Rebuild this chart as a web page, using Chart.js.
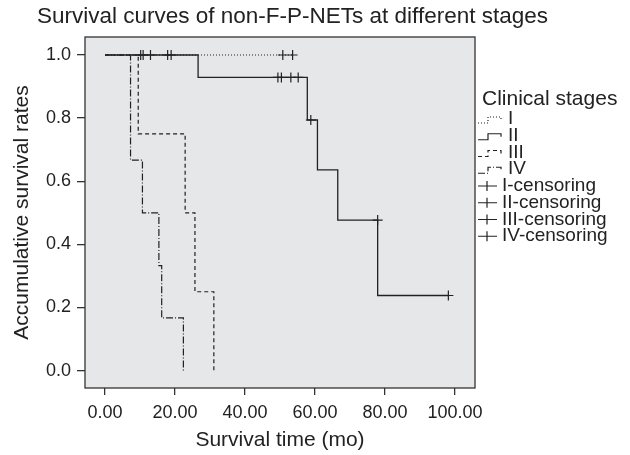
<!DOCTYPE html>
<html>
<head>
<meta charset="utf-8">
<script src="https://cdn.jsdelivr.net/npm/chart.js@4.4.1/dist/chart.umd.min.js"></script>
<style>
  body { margin: 0; background: #fff; }
  canvas { display: block; }
</style>
</head>
<body>
<canvas id="kmChart" width="630" height="455"></canvas>
<script>
// Values (time in months, survival rate)
const timeTicks = [0, 20, 40, 60, 80, 100];
const rateTicks = [0, 0.2, 0.4, 0.6, 0.8, 1.0];

const stage1Time = [0, 53.6];
const stage1Rate = [1, 1];
const stage2Time = [0, 26.6, 57.8, 60.7, 66.5, 77.9, 98.1];
const stage2Rate = [1, 0.929, 0.794, 0.636, 0.477, 0.238, 0.238];
const stage3Time = [0, 9.5, 22.9, 25.7, 31.1];
const stage3Rate = [1, 0.75, 0.5, 0.25, 0];
const stage4Time = [0, 7.3, 10.7, 15.4, 16.2, 22.4];
const stage4Rate = [1, 0.667, 0.5, 0.333, 0.167, 0];

const censor1Time = [10.2, 10.9, 13.0, 17.9, 18.9, 50.8, 53.6];
const censor1Rate = [1, 1, 1, 1, 1, 1, 1];
const censor2Time = [49.4, 50.4, 53.1, 55.2, 58.8, 77.9, 98.1];
const censor2Rate = [0.929, 0.929, 0.929, 0.929, 0.794, 0.477, 0.238];

const legendTitle = 'Clinical stages';
const legendLabels = ['I', 'II', 'III', 'IV', 'I-censoring', 'II-censoring', 'III-censoring', 'IV-censoring'];

const FONT = '"Liberation Sans", Arial, Helvetica, sans-serif';
const INK = '#222';

function toPoints(xs, ys) {
  return xs.map((x, i) => ({ x: x, y: ys[i] }));
}

// dash patterns for the four stage curves
const stageDashes = [[1, 2], [], [4, 3], [7, 2, 1, 2]];

function stepLine(label, xs, ys, dash, width) {
  return {
    label: label,
    data: toPoints(xs, ys),
    showLine: true,
    stepped: 'before',
    borderColor: INK,
    borderWidth: width,
    borderDash: dash,
    pointRadius: 0,
    fill: false
  };
}

function censorMarks(label, xs, ys) {
  return {
    label: label,
    data: toPoints(xs, ys),
    showLine: false,
    pointStyle: 'cross',
    pointRadius: 5,
    pointBorderColor: INK,
    pointBorderWidth: 1.2,
    borderColor: INK
  };
}

// Gray plot panel, frame, title and the SPSS-like legend
const framePlugin = {
  id: 'frame',
  beforeDraw(chart) {
    const a = chart.chartArea;
    const ctx = chart.ctx;
    ctx.save();
    ctx.fillStyle = '#e6e7e9';
    ctx.fillRect(a.left, a.top, a.right - a.left, a.bottom - a.top);
    ctx.restore();
  },
  afterDraw(chart) {
    const a = chart.chartArea;
    const ctx = chart.ctx;
    ctx.save();
    ctx.strokeStyle = '#333';
    ctx.lineWidth = 1.3;
    ctx.strokeRect(a.left, a.top, a.right - a.left, a.bottom - a.top);

    ctx.fillStyle = INK;
    ctx.textBaseline = 'middle';
    ctx.textAlign = 'left';
    ctx.font = '22.5px ' + FONT;
    ctx.fillText('Survival curves of non-F-P-NETs at different stages', 37, 17);

    // legend
    const lx = a.right + 3;
    ctx.font = '21px ' + FONT;
    ctx.fillText(legendTitle, lx + 4, 99);
    ctx.font = '19px ' + FONT;
    legendLabels.forEach((txt, i) => {
      const cy = 119 + i * 16.75;
      ctx.strokeStyle = INK;
      ctx.lineWidth = 1.2;
      if (i < 4) {
        ctx.setLineDash(stageDashes[i]);
        ctx.beginPath();
        ctx.moveTo(lx, cy + 4);
        ctx.lineTo(lx + 10, cy + 4);
        ctx.lineTo(lx + 10, cy - 2);
        ctx.lineTo(lx + 23, cy - 2);
        ctx.lineTo(lx + 23, cy + 1);
        ctx.stroke();
        ctx.setLineDash([]);
        ctx.fillText(txt, lx + 30, cy);
      } else {
        ctx.beginPath();
        ctx.moveTo(lx, cy);
        ctx.lineTo(lx + 19, cy);
        ctx.moveTo(lx + 9, cy - 5);
        ctx.lineTo(lx + 9, cy + 5);
        ctx.stroke();
        ctx.fillText(txt, lx + 24, cy);
      }
    });
    ctx.restore();
  }
};

const ctx = document.getElementById('kmChart').getContext('2d');

new Chart(ctx, {
  type: 'scatter',
  data: {
    datasets: [
      stepLine('I', stage1Time, stage1Rate, stageDashes[0], 1.1),
      stepLine('III', stage3Time, stage3Rate, stageDashes[2], 1.2),
      stepLine('IV', stage4Time, stage4Rate, stageDashes[3], 1.2),
      stepLine('II', stage2Time, stage2Rate, stageDashes[1], 1.3),
      censorMarks('I-censoring', censor1Time, censor1Rate),
      censorMarks('II-censoring', censor2Time, censor2Rate)
    ]
  },
  options: {
    responsive: false,
    animation: false,
    layout: { padding: { top: 37, right: 155, bottom: 0, left: 0 } },
    plugins: {
      legend: { display: false },
      tooltip: { enabled: false }
    },
    scales: {
      x: {
        type: 'linear',
        min: -5.71,
        max: 105.71,
        afterFit(scale) { scale.height = 67; },
        afterBuildTicks(scale) { scale.ticks = timeTicks.map(v => ({ value: v })); },
        grid: { drawOnChartArea: false, drawTicks: true, tickLength: 7, color: '#333', lineWidth: 1.3 },
        border: { display: false },
        ticks: {
          color: INK,
          padding: 7,
          maxRotation: 0,
          font: { family: FONT, size: 18 },
          callback: v => v.toFixed(2)
        },
        title: {
          display: true,
          text: 'Survival time (mo)',
          color: INK,
          font: { family: FONT, size: 21 },
          padding: { top: 0, bottom: 2 }
        }
      },
      y: {
        type: 'linear',
        min: -0.055,
        max: 1.057,
        afterFit(scale) { scale.width = 85; },
        afterBuildTicks(scale) { scale.ticks = rateTicks.map(v => ({ value: v })); },
        grid: { drawOnChartArea: false, drawTicks: true, tickLength: 8, color: '#333', lineWidth: 1.3 },
        border: { display: false },
        ticks: {
          color: INK,
          padding: 6,
          font: { family: FONT, size: 18 },
          callback: v => v.toFixed(1)
        },
        title: {
          display: true,
          text: 'Accumulative survival rates',
          color: INK,
          font: { family: FONT, size: 21 },
          padding: { top: 10, bottom: 0 }
        }
      }
    }
  },
  plugins: [framePlugin]
});
</script>
</body>
</html>
